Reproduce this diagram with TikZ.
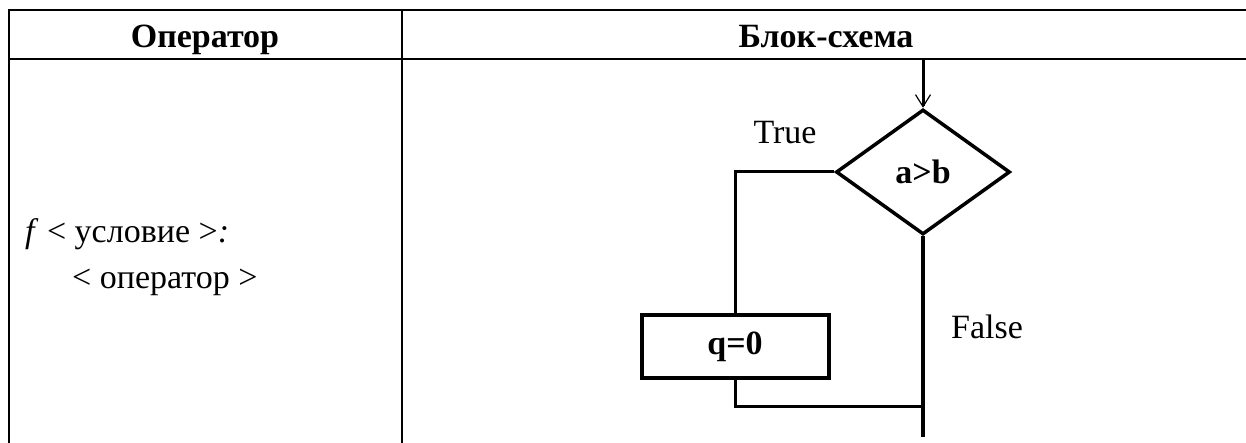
\documentclass[tikz,border=0pt]{standalone}
\usepackage{fontspec}
\setmainfont{Liberation Serif}
\usetikzlibrary{shapes.geometric,arrows.meta}

\begin{document}
\begin{tikzpicture}[x=1pt,y=-1pt,
  tablerule/.style={line width=2pt},
  flow/.style={line width=3pt},
  headtext/.style={font=\fontsize{34}{40}\selectfont\bfseries, anchor=base, inner sep=0pt},
  bodytext/.style={font=\fontsize{34}{40}\selectfont, anchor=base west, inner sep=0pt},
  decision/.style={diamond, draw, line width=3.5pt, minimum width=174pt,
    minimum height=125pt, inner sep=0pt, font=\fontsize{34}{40}\selectfont\bfseries},
  process/.style={rectangle, draw, line width=4pt, minimum width=187pt,
    minimum height=63pt, inner sep=0pt, font=\fontsize{34}{40}\selectfont\bfseries},
  flowlabel/.style={font=\fontsize{34}{40}\selectfont, inner sep=0pt},
]
\useasboundingbox (0,0) rectangle (1246,443);

% table frame
\draw[tablerule] (1246,10) -- (9,10) -- (9,443);
\draw[tablerule] (9,59) -- (1246,59);
\draw[tablerule] (402,10) -- (402,443);

% header
\node[headtext] (h1) at (205,48) {Оператор};
\node[headtext] (h2) at (826,48) {Блок-схема};

% operator syntax
\node[bodytext] (s1) at (25,243) {\textit{f} < условие >\textit{:}};
\node[bodytext] (s2) at (72,289) {< оператор >};

% flowchart
\coordinate (in) at (923,59);
\node[decision] (cond) at (923,172) {a>b};
\node[process] (act) at (735,346.5) {q=0};
\coordinate (join) at (923,406);
\coordinate (out) at (923,437);

\draw[flow, -{Straight Barb[length=12pt,width=15pt,line width=1.2pt]}] (in) -- (cond.north);
\draw[flow] (cond.west) -| (act.north);
\draw[flow, line width=3.5pt] (cond.south) -- (out);
\draw[flow] (act.south) |- (join);

\node[flowlabel] (t) at (785,133) {True};
\node[flowlabel] (f) at (987,327) {False};
\end{tikzpicture}
\end{document}
